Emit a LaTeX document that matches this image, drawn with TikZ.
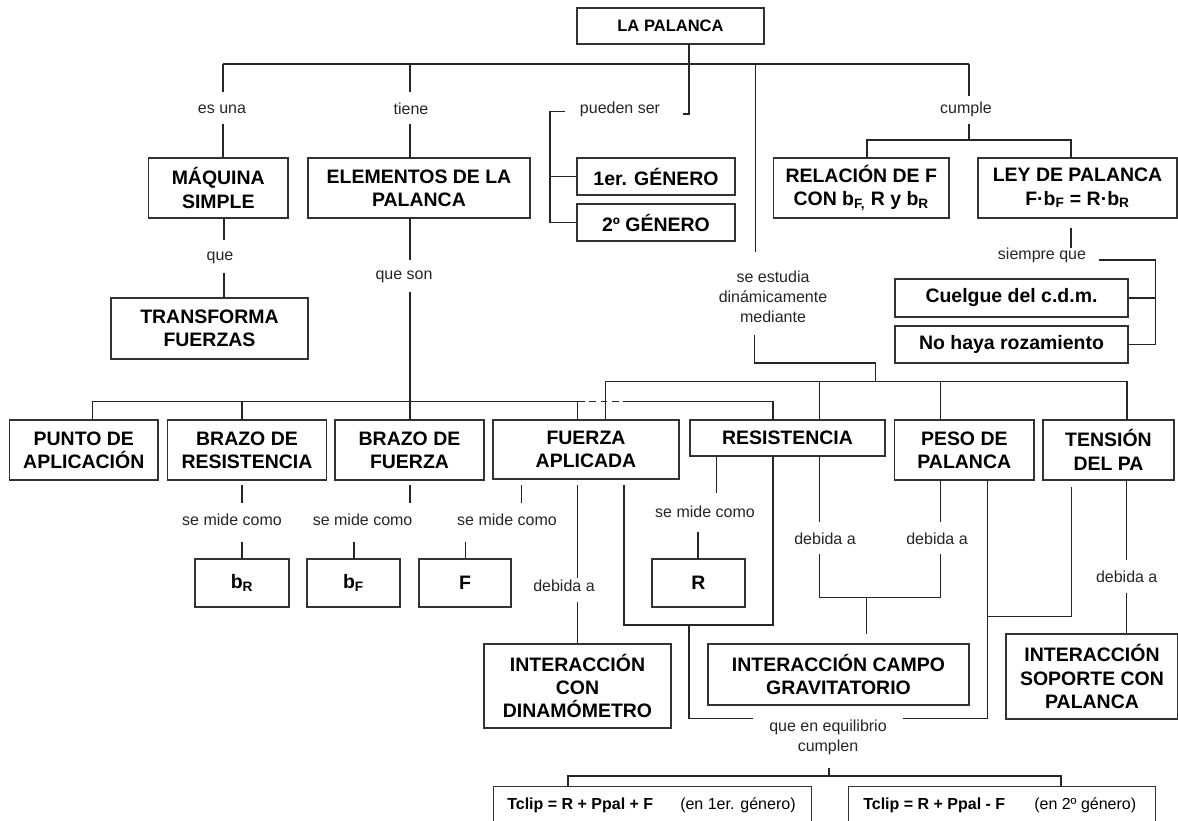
\documentclass[tikz,border=0pt]{standalone}
\usepackage{fontspec}
\setmainfont{Liberation Sans}
\newcommand\bxfont{\bfseries\fontsize{14.6}{17.5}\selectfont}
\newcommand\topfont{\bfseries\fontsize{12.4}{15}\selectfont}
\newcommand\lblfont{\fontsize{12}{15}\selectfont}
\newcommand\eqbfont{\bfseries\fontsize{12}{15}\selectfont}
\begin{document}
\begin{tikzpicture}[x=0.75pt,y=-0.75pt,
  box/.style={draw=black!80,line width=0.9pt,align=center,inner sep=0pt,font=\bxfont},
  bx/.style 2 args={minimum width=#1*0.75pt,minimum height=#2*0.75pt},
  lbl/.style={inner sep=0pt,font=\lblfont,text=black!85,align=center},
  eqb/.style={inner sep=0pt,font=\eqbfont},
  eqr/.style={inner sep=0pt,font=\lblfont},
  ln/.style={draw=black!85,line width=0.8pt},
  jump/.style={draw=black!85,line width=0.8pt,dash pattern=on 5pt off 3.5pt}]
\useasboundingbox (0,0) rectangle (1178,821);
\fill[white] (0,0) rectangle (1178,821);
\clip (0,0) rectangle (1178,821);

% ---------- boxes ----------
\node[box,bx={187}{36},font=\topfont] (lapal) at (670.5,26) {LA PALANCA};
\node[box,bx={139.5}{60}] (maq) at (218.25,188) {MÁQUINA\\SIMPLE};
\node[box,bx={222}{60}] (elem) at (419,188) {ELEMENTOS DE LA\\PALANCA};
\node[box,bx={158}{37}] (gen1) at (656,176.5) {1er. GÉNERO};
\node[box,bx={158}{37}] (gen2) at (656,222.5) {2º GÉNERO};
\node[box,bx={175.5}{60}] (rel) at (861.25,188) {RELACIÓN DE F\\CON b\textsubscript{F,} R y b\textsubscript{R}};
\node[box,bx={199}{60}] (ley) at (1077.5,188) {LEY DE PALANCA\\F·b\textsubscript{F} = R·b\textsubscript{R}};
\node[box,bx={233}{38}] (cuel) at (1011.5,298) {Cuelgue del c.d.m.};
\node[box,bx={233}{37}] (noh) at (1011.5,344.5) {No haya rozamiento};
\node[box,bx={197}{61}] (trans) at (209.5,328.5) {TRANSFORMA\\FUERZAS};
\node[box,bx={148.4}{60}] (punto) at (83.8,450) {PUNTO DE\\APLICACIÓN};
\node[box,bx={159}{60}] (bres) at (247,450) {BRAZO DE\\RESISTENCIA};
\node[box,bx={149}{60}] (bfue) at (409.5,450) {BRAZO DE\\FUERZA};
\node[box,bx={186}{59}] (fap) at (586,449.5) {FUERZA\\APLICADA};
\node[box,bx={195}{36}] (res) at (787.5,438) {RESISTENCIA};
\node[box,bx={139.3}{60}] (peso) at (964.3,450) {PESO DE\\PALANCA};
\node[box,bx={131}{60}] (tens) at (1108.5,450) {TENSIÓN\\DEL PA};
\node[box,bx={94}{48}] (bR) at (242,583) {b\textsubscript{R}};
\node[box,bx={93}{48}] (bF) at (353.5,583) {b\textsubscript{F}};
\node[box,bx={92}{48}] (Fb) at (465,583) {F};
\node[box,bx={93}{48}] (Rb) at (698.5,583) {R};
\node[box,bx={187}{84}] (idin) at (577.5,686) {INTERACCIÓN\\CON\\DINAMÓMETRO};
\node[box,bx={261}{61}] (icam) at (838.5,674.5) {INTERACCIÓN CAMPO\\GRAVITATORIO};
\node[box,bx={172}{85}] (isop) at (1092,676.5) {INTERACCIÓN\\SOPORTE CON\\PALANCA};
\node[box,bx={318}{60},anchor=north west] (t1) at (493,786) {};
\node[box,bx={307}{60},anchor=north west] (t2) at (848,786) {};
\node[eqb,anchor=west] (t1a) at (507,805) {Tclip = R + Ppal + F};
\node[eqr,anchor=west] (t1b) at (680,805) {(en 1er. género)};
\node[eqb,anchor=west] (t2a) at (863,805) {Tclip = R + Ppal - F};
\node[eqr,anchor=west] (t2b) at (1034,805) {(en 2º género)};

% ---------- labels ----------
\node[lbl] (esuna) at (222,109) {es una};
\node[lbl] (tiene) at (411,109) {tiene};
\node[lbl] (pued) at (620,109) {pueden ser};
\node[lbl] (cump) at (966,109) {cumple};
\node[lbl] (que) at (220,258) {que};
\node[lbl] (queson) at (404,277) {que son};
\node[lbl] (siem) at (1042,255) {siempre que};
\node[lbl,font=\fontsize{12}{15}\selectfont] (estud) at (773,297) {se estudia\\dinámicamente\\mediante};
\node[lbl] (sm1) at (232,520) {se mide como};
\node[lbl] (sm2) at (362.6,520) {se mide como};
\node[lbl] (sm3) at (507,520) {se mide como};
\node[lbl] (sm4) at (705,511.7) {se mide como};
\node[lbl] (db1) at (564,586) {debida a};
\node[lbl] (db2) at (825,539) {debida a};
\node[lbl] (db3) at (937,539) {debida a};
\node[lbl] (db4) at (1126.7,576.7) {debida a};
\node[lbl] (equil) at (828,737) {que en equilibrio\\cumplen};

% ---------- connectors: top ----------
\draw[ln] (689,44) -- (689,114) -- (683,114);
\draw[ln] (223,64) -- (969,64);
\draw[ln] (223,64) -- (223,92);
\draw[ln] (223,124) -- (maq.north -| 223,0);
\draw[ln] (410,64) -- (410,92);
\draw[ln] (410,124) -- (410,158);
\draw[ln] (564.5,111.7) -- (550,111.7) -- (550,222.5) -- (gen2.west);
\draw[ln] (550,176.5) -- (gen1.west);
\draw[ln] (755.6,64) -- (755.6,252);
\draw[ln] (754.8,335) -- (754.8,363) -- (875.8,363) -- (875.8,381.7);
\draw[ln] (969,64) -- (969,96);
\draw[ln] (969,124) -- (969,140);
\draw[ln] (867,158) -- (867,140) -- (1071,140) -- (1071,158);
% siempre que
\draw[ln] (1071,228) -- (1071,248);
\draw[ln] (1099,260) -- (1155.5,260) -- (1155.5,344.5) -- (noh.east);
\draw[ln] (cuel.east) -- (1155.5,298);
% que
\draw[ln] (224,218) -- (224,240);
\draw[ln] (224,273) -- (224,298);
% que son
\draw[ln] (410,218) -- (410,260);
\draw[ln] (410,291.7) -- (410,420);

% ---------- bus 1 (elementos) ----------
\draw[ln] (92.6,420) -- (92.6,401.7) -- (578,401.7);
\draw[jump] (578,401.7) -- (628,401.7);
\draw[ln] (628,401.7) -- (773,401.7) -- (773,420);
\draw[ln] (242,401.7) -- (242,420);
\draw[ln] (577.5,401.7) -- (577.5,420);

% ---------- bus 2 (se estudia) ----------
\draw[ln] (605.6,420) -- (605.6,381.7) -- (1127,381.7) -- (1127,420);
\draw[ln] (819.5,381.7) -- (819.5,420);
\draw[ln] (940.5,381.7) -- (940.5,420);

% ---------- se mide como ----------
\draw[ln] (242,485) -- (242,503);
\draw[ln] (242,541.7) -- (bR.north);
\draw[ln] (410,485) -- (410,503);
\draw[ln] (354,541.7) -- (354,559);
\draw[ln] (521.7,485) -- (521.7,503);
\draw[ln] (465.7,541.7) -- (465.7,559);
\draw[ln] (716.7,456) -- (716.7,493);
\draw[ln] (698,531.7) -- (698,559);

% ---------- debida a ----------
\draw[ln] (577.5,485) -- (577.5,578);
\draw[ln] (577.5,601.7) -- (idin.north);
\draw[ln] (819.3,456) -- (819.3,521.7);
\draw[ln] (819.3,554) -- (819.3,597.7) -- (940.3,597.7) -- (940.3,554);
\draw[ln] (940.3,480) -- (940.3,521.7);
\draw[ln] (866.7,597.7) -- (866.7,634);
\draw[ln] (1126.7,480) -- (1126.7,560);
\draw[ln] (1126.7,593) -- (isop.north -| 1126.7,0);

% ---------- equilibrio ----------
\draw[ln] (624,485) -- (624,625) -- (773,625) -- (773,456);
\draw[ln] (689,625) -- (689,718.5) -- (753,718.5);
\draw[ln] (903,718.5) -- (987.5,718.5) -- (987.5,480);
\draw[ln] (987.5,616.7) -- (1071.7,616.7) -- (1071.7,486.7);
\draw[ln] (829,768) -- (829,776);
\draw[ln] (568,786) -- (568,776) -- (1061,776) -- (1061,786);
\end{tikzpicture}
\end{document}
